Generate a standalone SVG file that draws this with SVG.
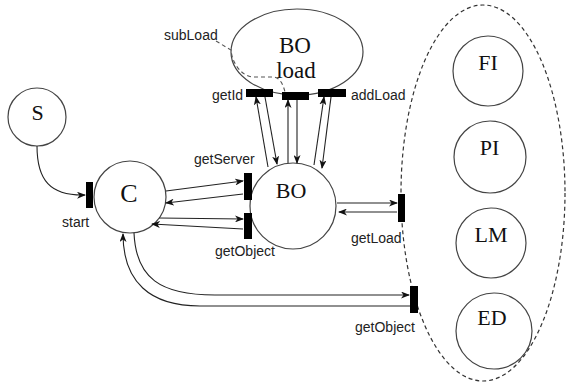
<svg xmlns="http://www.w3.org/2000/svg" width="569" height="386" viewBox="0 0 569 386">
<defs>
<marker id="ah" markerWidth="9" markerHeight="7" refX="8" refY="3.5" orient="auto" markerUnits="userSpaceOnUse">
<path d="M0,0 L9,3.5 L0,7 L2.5,3.5 z" fill="#111"/>
</marker>
<style>
.nd{fill:#fff;stroke:#444;stroke-width:1.2}
.bar{fill:#000}
.cn{fill:none;stroke:#222;stroke-width:1.1;marker-end:url(#ah)}
.sf{font-family:"Liberation Serif","Times New Roman",serif;font-size:22px;fill:#111;text-anchor:middle}
.lb{font-family:"Liberation Sans",Arial,sans-serif;font-size:14px;fill:#222}
</style>
</defs>
<rect width="569" height="386" fill="#fff"/>

<g id="group-ellipse">
<ellipse cx="483" cy="193" rx="82" ry="188" fill="none" stroke="#333" stroke-width="1.2" stroke-dasharray="4,3"/>
</g>

<g id="node-S"><circle class="nd" cx="37" cy="117" r="29"/><text class="sf" x="37.5" y="120">S</text></g>
<g id="node-C"><circle class="nd" cx="130" cy="197" r="36"/><text class="sf" x="129" y="202" style="font-size:26px">C</text></g>
<g id="node-BO"><circle class="nd" cx="293" cy="206" r="43"/><text class="sf" x="291" y="198">BO</text></g>
<g id="node-BOload"><ellipse class="nd" cx="297" cy="52" rx="66" ry="43"/><text class="sf" x="295" y="53" style="font-size:23px">BO</text><text class="sf" x="296" y="78" style="font-size:23px">load</text></g>
<g id="node-FI"><circle class="nd" cx="488" cy="71" r="35"/><text class="sf" x="488" y="70">FI</text></g>
<g id="node-PI"><circle class="nd" cx="490" cy="157" r="36"/><text class="sf" x="489.5" y="155">PI</text></g>
<g id="node-LM"><circle class="nd" cx="491" cy="243" r="35"/><text class="sf" x="491" y="242">LM</text></g>
<g id="node-ED"><circle class="nd" cx="494" cy="331" r="38"/><text class="sf" x="492" y="325">ED</text></g>

<g id="transitions">
<rect class="bar" x="86" y="182" width="7" height="26"/>
<rect class="bar" x="244" y="173" width="8" height="27"/>
<rect class="bar" x="244" y="213" width="8" height="26"/>
<rect class="bar" x="398" y="194" width="7" height="28"/>
<rect class="bar" x="410" y="286" width="8" height="27"/>
<rect class="bar" x="246" y="89" width="27" height="8"/>
<rect class="bar" x="282" y="92" width="27" height="8"/>
<rect class="bar" x="318" y="89" width="28" height="8"/>
</g>

<g id="connectors">
<path class="cn" d="M37,146 C37,180 50,196 85,195"/>
<path class="cn" d="M166,191 L243,181"/>
<path class="cn" d="M243,194 L166,203"/>
<path class="cn" d="M159,218 L243,219"/>
<path class="cn" d="M243,229 L152,224"/>
<path class="cn" d="M268,167 L256,97"/>
<path class="cn" d="M265,97 L277,164"/>
<path class="cn" d="M288,163 L288,100"/>
<path class="cn" d="M297,100 L297,163"/>
<path class="cn" d="M314,165 L324,97"/>
<path class="cn" d="M331,97 L322,168"/>
<path class="cn" d="M337,203 L397,203"/>
<path class="cn" d="M397,212 L339,212"/>
<path class="cn" d="M134,233 C136,278 160,295 215,295 L409,295"/>
<path class="cn" d="M410,306 L200,306 C150,306 123,282 123,234"/>
<path d="M216,41 L231,50 C232,62 240,75 252,77 L274,77 C280,78 283,84 285,92" fill="none" stroke="#555" stroke-width="1.1" stroke-dasharray="4,3"/>
</g>

<g id="labels">
<text class="lb" x="164" y="40">subLoad</text>
<text class="lb" x="212" y="100">getId</text>
<text class="lb" x="351" y="100">addLoad</text>
<text class="lb" x="194" y="164">getServer</text>
<text class="lb" x="62" y="227">start</text>
<text class="lb" x="215" y="256">getObject</text>
<text class="lb" x="351" y="243">getLoad</text>
<text class="lb" x="355" y="332">getObject</text>
</g>
</svg>
